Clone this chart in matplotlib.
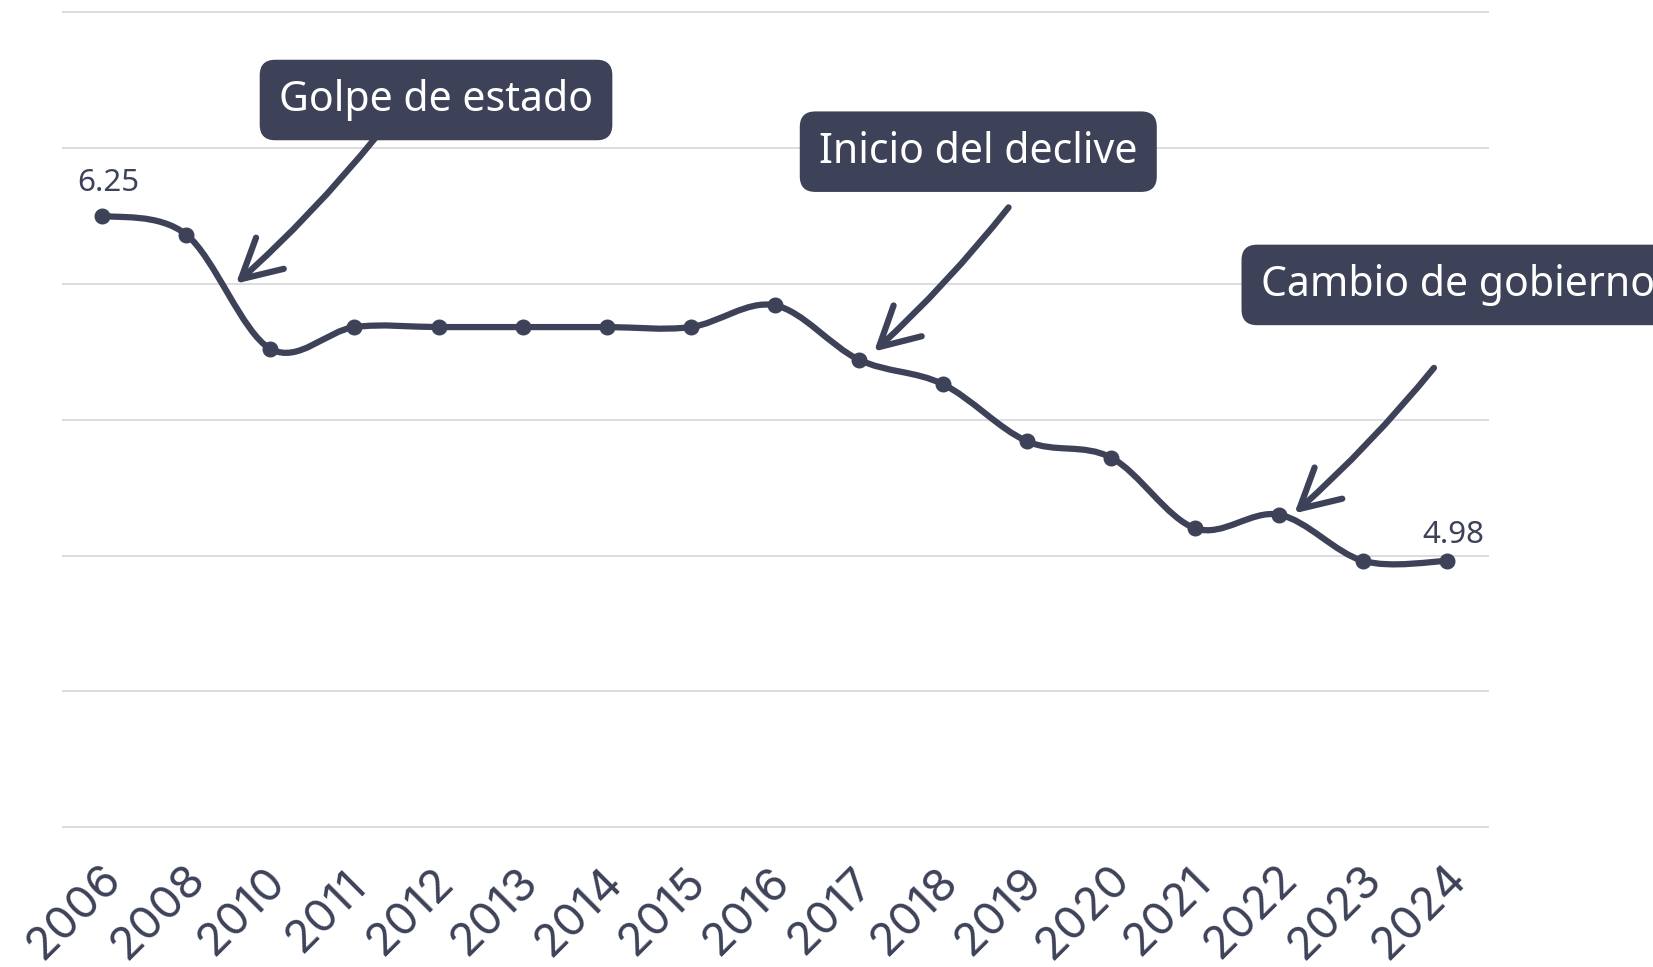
import matplotlib.pyplot as plt
import numpy as np
from matplotlib.path import Path
from matplotlib.patches import PathPatch
from matplotlib.transforms import ScaledTranslation

years = ['2006', '2008', '2010', '2011', '2012', '2013', '2014', '2015', '2016',
         '2017', '2018', '2019', '2020', '2021', '2022', '2023', '2024']
scores = [6.25, 6.18, 5.76, 5.84, 5.84, 5.84, 5.84, 5.84, 5.92,
          5.72, 5.63, 5.42, 5.36, 5.10, 5.15, 4.98, 4.98]

event_labels = ['Golpe de estado', 'Inicio del declive', 'Cambio de gobierno']

DARK = '#3d4258'
GRID = '#d9d9df'


def smooth_path(x, y, k=1 / 6):
    # curva tipo Catmull-Rom con segmentos Bezier cúbicos
    p = np.column_stack([x, y]).astype(float)
    n = len(p)
    verts = [p[0]]
    codes = [Path.MOVETO]
    for i in range(n - 1):
        prev = p[i - 1] if i > 0 else p[i]
        nxt = p[i + 2] if i + 2 < n else p[i + 1]
        c1 = p[i] + (p[i + 1] - prev) * k
        c2 = p[i + 1] - (nxt - p[i]) * k
        verts += [c1, c2, p[i + 1]]
        codes += [Path.CURVE4] * 3
    return Path(verts, codes)


fig = plt.figure(figsize=(16.53, 9.67), dpi=100)
ax = fig.add_axes([0.0375, 0.1387, 0.8633, 0.8549])

x = np.arange(len(years))
ax.add_patch(PathPatch(smooth_path(x, scores), fill=False, edgecolor=DARK,
                       lw=4.5, capstyle='round', zorder=3))
ax.plot(x, scores, 'o', color=DARK, ms=10.5, zorder=4)

ax.set_xlim(-0.479, 16.495)
ax.set_ylim(3.98, 7.02)
ax.set_yticks(np.arange(4.0, 7.01, 0.5))
ax.set_yticklabels([])
ax.yaxis.grid(True, color=GRID, lw=1.3)
ax.set_axisbelow(True)
for s in ax.spines.values():
    s.set_visible(False)
ax.tick_params(length=0)
ax.set_xticks(x)
ax.set_xticklabels(years, rotation=45, ha='center', va='center', rotation_mode='anchor',
                   fontsize=33, color=DARK, family='Inter')
ax.tick_params(axis='x', pad=57)
shift = ScaledTranslation(-0.28, 0, fig.dpi_scale_trans)
for lbl in ax.get_xticklabels():
    lbl.set_transform(lbl.get_transform() + shift)

# etiquetas de primer y último valor
ax.annotate(f'{scores[0]:.2f}', (x[0], scores[0]), xytext=(4.3, 23.5), textcoords='offset points',
            ha='center', va='center', fontsize=22.5, color=DARK, family='Noto Sans')
ax.annotate(f'{scores[-1]:.2f}', (x[-1], scores[-1]), xytext=(4.3, 19), textcoords='offset points',
            ha='center', va='center', fontsize=22.5, color=DARK, family='Noto Sans')

box = dict(boxstyle='round,pad=0.47,rounding_size=0.38', fc=DARK, ec='none')
text_pos = [(3.97, 6.675, 'center'), (10.42, 6.485, 'center'), (13.78, 5.995, 'left')]
for (tx, ty, ha), label in zip(text_pos, event_labels):
    ax.text(tx, ty, label, ha=ha, va='center', fontsize=29.5, color='white',
            family='Noto Sans', bbox=box, clip_on=False, zorder=5)

arrows = [((1.59, 6.0), (3.26, 6.54)),
          ((9.18, 5.75), (10.78, 6.28)),
          ((14.18, 5.155), (15.84, 5.69))]
for tip, start in arrows:
    ax.annotate('', xy=tip, xytext=start,
                arrowprops=dict(arrowstyle='->,head_length=1.4,head_width=0.75',
                                color=DARK, lw=4.5, mutation_scale=20,
                                connectionstyle='arc3,rad=-0.04',
                                shrinkA=0, shrinkB=0, capstyle='round'),
                zorder=5)

fig.savefig('out.png', dpi=100)
